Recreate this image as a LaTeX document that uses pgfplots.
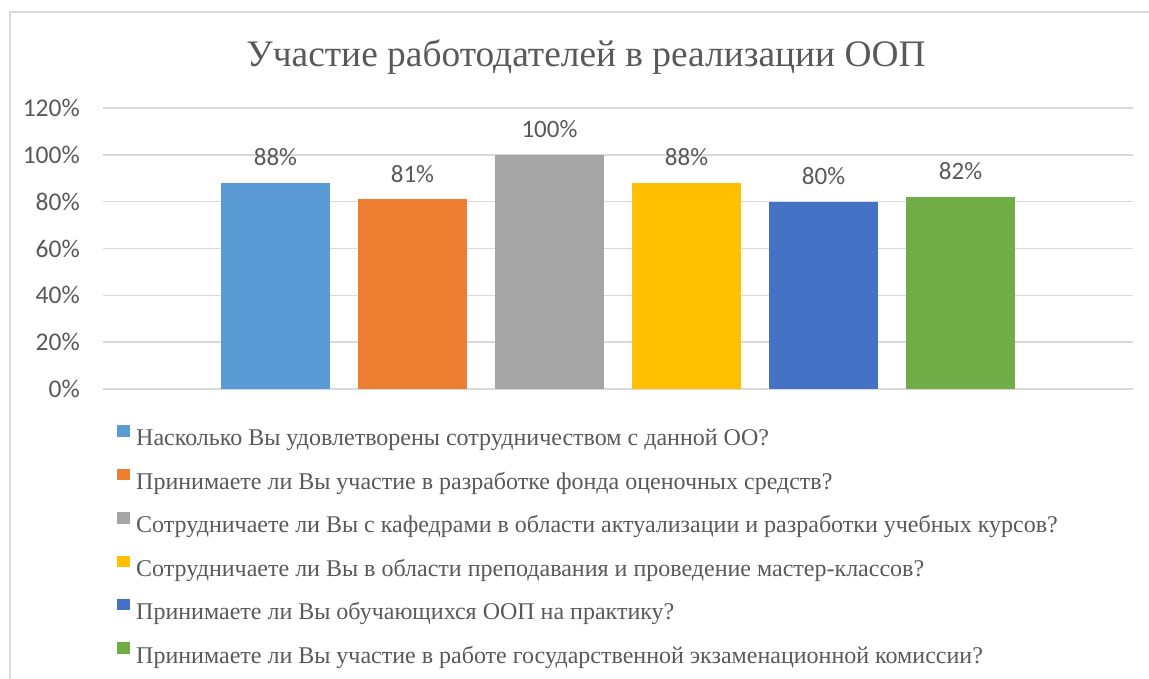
\documentclass[border=0pt]{standalone}
\usepackage{pgfplots}
\pgfplotsset{compat=1.18}
\usepackage{fontspec}
\setmainfont{Liberation Serif}
\newfontfamily\calibri{Carlito}
\definecolor{txt}{HTML}{595959}
\definecolor{gridc}{HTML}{D9D9D9}
\definecolor{c1}{HTML}{5B9BD5}
\definecolor{c2}{HTML}{ED7D31}
\definecolor{c3}{HTML}{A5A5A5}
\definecolor{c4}{HTML}{FFC000}
\definecolor{c5}{HTML}{4472C4}
\definecolor{c6}{HTML}{70AD47}
\begin{document}
\begin{tikzpicture}[x=1pt,y=1pt]
  \useasboundingbox (0,0) rectangle (1149,678);
  % chart frame (only left and top edges are inside the picture)
  \draw[gridc, line width=2pt] (10,-5) -- (10,666) -- (1160,666);
  \node[anchor=base, text=txt, font=\fontsize{37.4}{44}\selectfont]
    at (586,611) {Участие работодателей в реализации ООП};
  \begin{axis}[
    at={(103pt,289pt)}, anchor=south west,
    scale only axis, width=1030pt, height=281pt,
    xmin=-1.259, xmax=6.259,
    ymin=0, ymax=120,
    ytick={0,20,...,120},
    xtick=\empty,
    ymajorgrids,
    grid style={gridc, line width=1.5pt},
    axis line style={draw=none},
    major tick length=0pt,
    /pgf/number format/assume math mode=true,
    yticklabel={\pgfmathprintnumber{\tick}\%},
    yticklabel style={font=\calibri\fontsize{25.5}{30}\selectfont, text=txt, inner sep=0pt, xshift=-23pt},
    ybar, bar width=0.79, bar shift=0pt,
    nodes near coords={\pgfmathprintnumber{\pgfplotspointmeta}\%},
    nodes near coords style={font=\calibri\fontsize{25}{30}\selectfont, text=txt, anchor=base, inner sep=0pt, yshift=17pt},
    legend cell align=left,
    legend image code/.code={\fill[#1] (0pt,3.5pt) rectangle (13pt,15pt);},
    legend style={at={(axis description cs:0.0136,-0.128)}, anchor=north west,
      draw=none, fill=none, inner sep=0pt, row sep=17.2pt,
      font=\fontsize{24}{29}\selectfont, text=txt,
      nodes={inner sep=0pt, text height=17pt, text depth=5.5pt},
      /tikz/every odd column/.append style={column sep=6pt}},
  ]
    \addplot[fill=c1, draw=none] coordinates {(0,88)};
    \addlegendentry{Насколько Вы удовлетворены сотрудничеством с данной ОО?}
    \addplot[fill=c2, draw=none] coordinates {(1,81)};
    \addlegendentry{Принимаете ли Вы участие в разработке фонда оценочных средств?}
    \addplot[fill=c3, draw=none] coordinates {(2,100)};
    \addlegendentry{Сотрудничаете ли Вы с кафедрами в области актуализации и разработки учебных курсов?}
    \addplot[fill=c4, draw=none] coordinates {(3,88)};
    \addlegendentry{Сотрудничаете ли Вы в области преподавания и проведение мастер-классов?}
    \addplot[fill=c5, draw=none] coordinates {(4,80)};
    \addlegendentry{Принимаете ли Вы обучающихся ООП на практику?}
    \addplot[fill=c6, draw=none] coordinates {(5,82)};
    \addlegendentry{Принимаете ли Вы участие в работе государственной экзаменационной комиссии?}
  \end{axis}
\end{tikzpicture}
\end{document}
